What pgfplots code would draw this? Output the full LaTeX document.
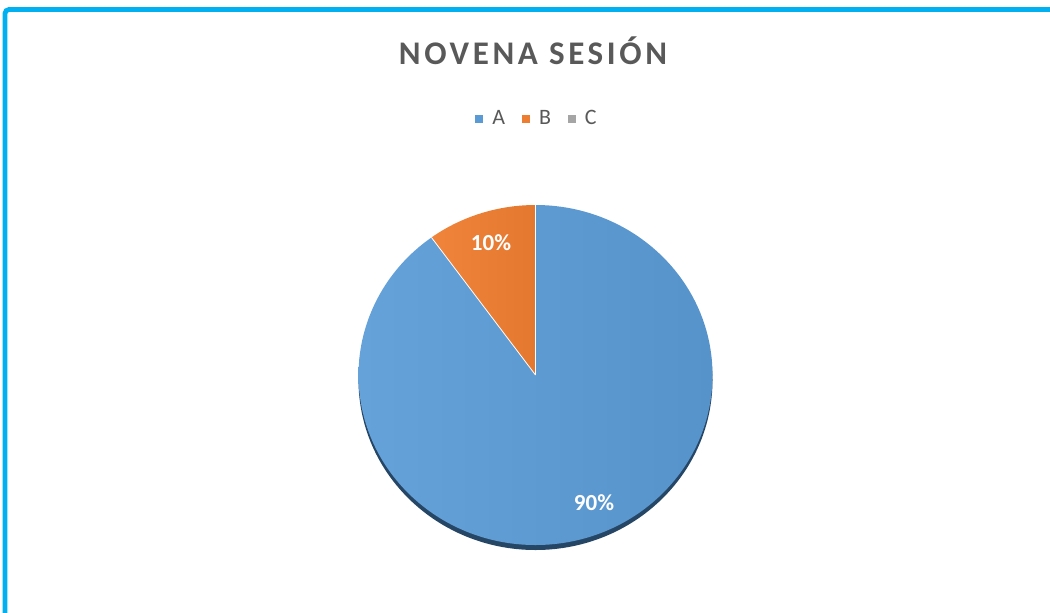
\documentclass[border=0pt]{standalone}
\usepackage{fontspec}
\setmainfont{Carlito}
\newfontfamily\titlefont[LetterSpace=11]{Carlito}
\usepackage{pgfplots}
\usepackage{pgfplotstable}
\pgfplotsset{compat=1.18}

\definecolor{blueA}{RGB}{91,155,213}
\definecolor{blueL}{RGB}{102,162,218}
\definecolor{blueR}{RGB}{87,147,203}
\definecolor{orangeB}{RGB}{237,125,49}
\definecolor{orangeL}{RGB}{240,132,58}
\definecolor{orangeR}{RGB}{228,120,46}
\definecolor{grayC}{RGB}{165,165,165}
\definecolor{txtgray}{RGB}{89,89,89}
\definecolor{frame}{RGB}{0,176,240}
\definecolor{shadowc}{RGB}{38,70,102}

% pie values (percent)
\pgfplotstableread{
label value
A 90
B 10
C 0
}\piedata

\begin{document}
\begin{tikzpicture}
\pgfplotstablegetelem{0}{value}\of\piedata\pgfmathsetmacro\va{\pgfplotsretval}
\pgfplotstablegetelem{1}{value}\of\piedata\pgfmathsetmacro\vb{\pgfplotsretval}
\pgfplotstablegetelem{2}{value}\of\piedata\pgfmathsetmacro\vc{\pgfplotsretval}
\pgfmathsetmacro\tot{\va+\vb+\vc}
\pgfmathsetmacro\aA{90-360*(\va/\tot)}
\pgfmathsetmacro\aB{\aA-360*(\vb/\tot)}

\begin{axis}[
name=ax,
scale only axis,
width=525pt, height=306pt,
xmin=0, xmax=1050, ymin=0, ymax=612,
y dir=reverse,
hide axis,
legend image code/.code={\fill[#1] (0pt,-2pt) rectangle (4pt,2pt);},
legend style={at={(axis cs:538,119)}, anchor=center, draw=none, fill=none,
  legend columns=3, font=\fontsize{11}{13}\selectfont, text=txtgray,
  /tikz/every odd column/.append style={column sep=2.5pt},
  /tikz/every even column/.append style={column sep=6.5pt}},
]
\addlegendimage{fill=blueA, draw=none}
\addlegendentry{A}
\addlegendimage{fill=orangeB, draw=none}
\addlegendentry{B}
\addlegendimage{fill=grayC, draw=none}
\addlegendentry{C}

% frame
\draw[frame, line width=2.4pt, rounded corners=2pt] (axis cs:1070,9.5) -- (axis cs:5,9.5) -- (axis cs:5,640);

% shadow
\fill[shadowc] ([yshift=-2.5pt]axis cs:535.5,375) ellipse [x radius=88.5pt, y radius=85pt];

% slices
\shade[left color=blueL, right color=blueR] (axis cs:535.5,375) -- ++(90:88.5pt and 85pt) arc[start angle=90, end angle=\aA, x radius=88.5pt, y radius=85pt] -- cycle;
\shade[left color=orangeL, right color=orangeR] (axis cs:535.5,375) -- ++(\aA:88.5pt and 85pt) arc[start angle=\aA, end angle=\aB, x radius=88.5pt, y radius=85pt] -- cycle;
\draw[white, line width=0.4pt] (axis cs:535.5,375) -- ++(\aA:88.5pt and 85pt);
\draw[white, line width=0.4pt] (axis cs:535.5,375) -- ++(90:88.5pt and 85pt);

% labels
\node[white, font=\bfseries\fontsize{11.5}{13}\selectfont] at (axis cs:491,243) {10\%};
\node[white, font=\bfseries\fontsize{11.5}{13}\selectfont] at (axis cs:594,503) {90\%};

% title
\node[txtgray, font=\titlefont\bfseries\fontsize{16.5}{19}\selectfont, anchor=base] at (axis cs:533,64) {NOVENA SESIÓN};
\end{axis}
\pgfresetboundingbox
\path[use as bounding box] (ax.south west) rectangle (ax.north east);
\end{tikzpicture}
\end{document}
